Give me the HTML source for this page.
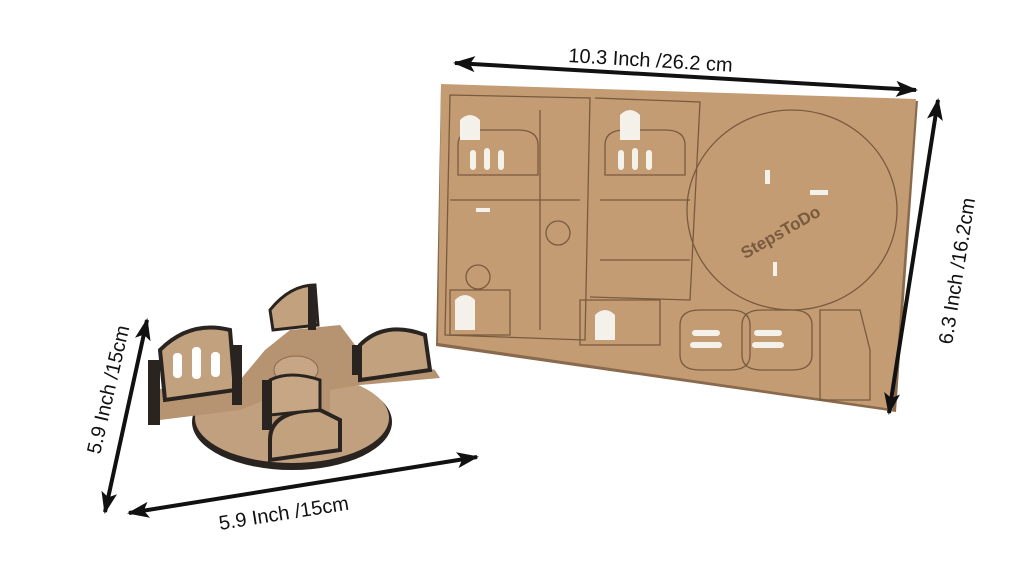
<!DOCTYPE html>
<html><head><meta charset="utf-8"><style>
html,body{margin:0;padding:0;background:#fff;}
svg{display:block}
text{font-family:"Liberation Sans",sans-serif;fill:#111;}
</style></head><body>
<svg width="1024" height="587" viewBox="0 0 1024 587" xmlns="http://www.w3.org/2000/svg">
<defs>
<marker id="ah" markerWidth="22" markerHeight="16" refX="20" refY="8" orient="auto-start-reverse" markerUnits="userSpaceOnUse" viewBox="0 0 22 16">
<path d="M0,0 L22,8 L0,16 L5,8 Z" fill="#111"/></marker>
</defs>
<!-- board -->
<polygon points="441,86 918,101 896,412 436,346" fill="#8a6a4c"/>
<polygon points="441,84 916,99 893,409 438,343" fill="#c39c74"/>
<g fill="none" stroke="#7a5a3e" stroke-width="1.3">
<path d="M450,95 L590,98 L585,340 L445,335 Z"/>
<path d="M595,98 L700,102 L690,300 L590,297"/>
<ellipse cx="792" cy="210" rx="105" ry="100"/>
<path d="M458,145 q0,-15 20,-15 h40 q20,0 20,15 v30 h-80 z"/>
<path d="M605,145 q0,-15 20,-15 h40 q20,0 20,15 v30 h-80 z"/>
<path d="M680,325 q0,-15 20,-15 h30 q20,0 20,15 v30 q0,15 -20,15 h-30 q-20,0 -20,-15 z"/>
<path d="M742,325 q0,-15 20,-15 h30 q20,0 20,15 v30 q0,15 -20,15 h-30 q-20,0 -20,-15 z"/>
<path d="M820,310 h40 l10,40 v50 h-50 z"/>
<circle cx="558" cy="233" r="12"/>
<circle cx="478" cy="277" r="12"/>
<path d="M450,290 h60 v45 h-60 z"/>
<path d="M580,300 h80 v45 h-80 z"/>
<path d="M450,200 h130 M600,200 h90 M540,110 v220 M600,260 h90"/>
</g>
<g fill="#f4f0ea">
<rect x="470" y="150" width="6" height="20" rx="3"/><rect x="484" y="148" width="6" height="22" rx="3"/><rect x="498" y="150" width="6" height="20" rx="3"/>
<rect x="618" y="150" width="6" height="20" rx="3"/><rect x="632" y="148" width="6" height="22" rx="3"/><rect x="646" y="150" width="6" height="20" rx="3"/>
<rect x="692" y="330" width="28" height="6" rx="3"/><rect x="690" y="342" width="32" height="6" rx="3"/>
<rect x="754" y="330" width="28" height="6" rx="3"/><rect x="752" y="342" width="32" height="6" rx="3"/>
<rect x="476" y="208" width="14" height="4"/><rect x="810" y="190" width="18" height="5"/><rect x="765" y="170" width="5" height="14"/>
<rect x="773" y="262" width="4" height="14"/>
<path d="M460,120 q10,-10 20,0 v20 h-20z"/><path d="M620,115 q10,-10 20,0 v25 h-20z"/>
<path d="M455,300 q10,-10 20,0 v30 h-20z"/><path d="M595,315 q10,-10 20,0 v25 h-20z"/>
</g>
<text x="740" y="250" font-size="17" font-weight="bold" style="fill:#7a5a3e" transform="rotate(-30 760 245)">StepsToDo</text>
<!-- carousel -->
<ellipse cx="292" cy="422" rx="100" ry="48" fill="#2a2420"/>
<ellipse cx="292" cy="418" rx="97" ry="45" fill="#c0a07e"/>
<polygon points="150,390 240,380 265,350 290,330 340,325 355,345 435,370 440,378 360,385 330,390 330,450 270,455 265,400 240,410 160,420" fill="#b69472"/>
<path d="M160,350 q30,-30 70,-20 l5,60 l-70,10 z" fill="#c2a17f" stroke="#2a2420" stroke-width="4"/>
<rect x="148" y="360" width="12" height="65" fill="#2a2420"/>
<rect x="232" y="345" width="10" height="60" fill="#2a2420"/>
<rect x="173" y="353" width="9" height="25" rx="4" fill="#fff"/><rect x="192" y="347" width="9" height="32" rx="4" fill="#fff"/><rect x="211" y="352" width="9" height="25" rx="4" fill="#fff"/>
<path d="M360,345 q25,-25 65,-10 l5,35 l-70,10 z" fill="#c2a17f" stroke="#2a2420" stroke-width="4"/>
<rect x="352" y="345" width="9" height="30" fill="#2a2420"/>
<path d="M270,310 q20,-25 45,-25 l3,40 l-45,5 z" fill="#c2a17f" stroke="#2a2420" stroke-width="3"/>
<rect x="308" y="285" width="8" height="45" fill="#2a2420"/>
<ellipse cx="296" cy="370" rx="22" ry="14" fill="#c6a684" stroke="#8a6a4c"/>
<path d="M270,440 q0,-30 50,-30 l20,10 v30 l-70,10 z" fill="#c2a17f" stroke="#2a2420" stroke-width="4"/>
<path d="M270,400 v-20 q20,-10 50,0 v30 l-50,5 z" fill="#c6a684" stroke="#2a2420" stroke-width="3"/>
<rect x="262" y="380" width="10" height="50" fill="#2a2420"/>
<!-- arrows -->
<g stroke="#111" stroke-width="4" fill="none">
<line x1="455" y1="63" x2="916" y2="90" marker-start="url(#ah)" marker-end="url(#ah)"/>
<line x1="938" y1="100" x2="889" y2="413" marker-start="url(#ah)" marker-end="url(#ah)"/>
<line x1="147" y1="320" x2="105" y2="512" marker-start="url(#ah)" marker-end="url(#ah)"/>
<line x1="129" y1="513" x2="477" y2="457" marker-start="url(#ah)" marker-end="url(#ah)"/>
</g>
<text x="568" y="62" font-size="20" transform="rotate(3.4 568 62)">10.3 Inch /26.2 cm</text>
<text x="0" y="0" font-size="20" transform="translate(952,345) rotate(-81)">6.3 Inch /16.2cm</text>
<text x="0" y="0" font-size="20" transform="translate(100,455) rotate(-77)">5.9 Inch /15cm</text>
<text x="220" y="530" font-size="20" transform="rotate(-9 220 530)">5.9 Inch /15cm</text>
</svg>
</body></html>
